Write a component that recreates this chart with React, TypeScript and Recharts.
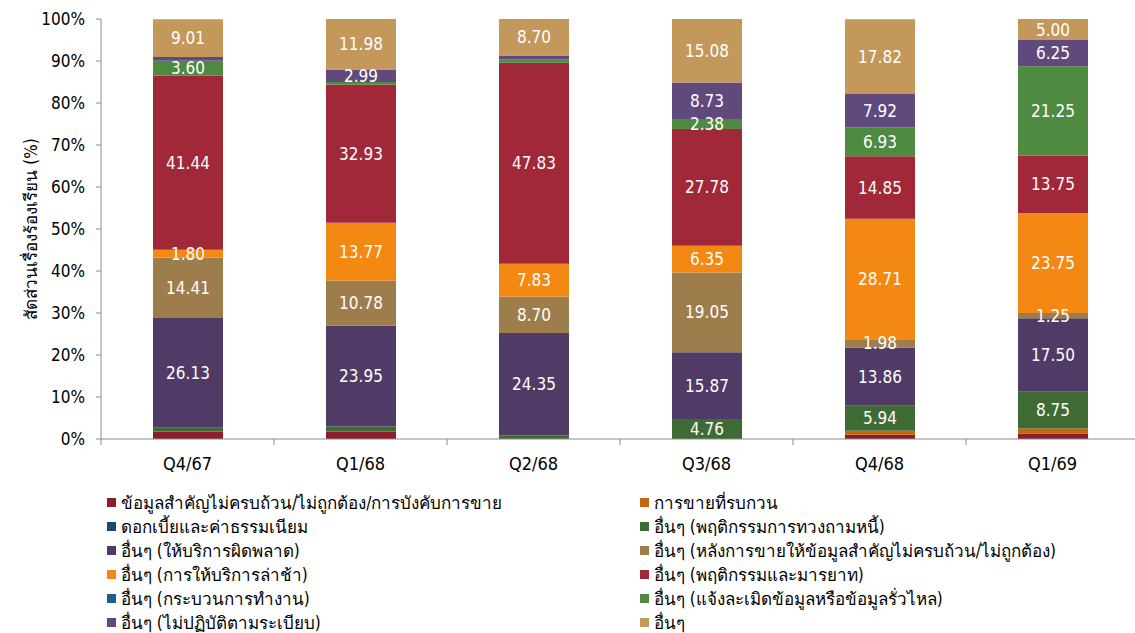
import React from 'react';
import { BarChart, Bar, XAxis, YAxis, LabelList } from 'recharts';

// quarters (Thai Buddhist-year)
const quarters = ['Q4/67', 'Q1/68', 'Q2/68', 'Q3/68', 'Q4/68', 'Q1/69'];

// share of complaints (%) per category, bottom of the stack first
const infoIncomplete = [1.8, 1.8, 0, 0, 0.99, 1.25];
const intrusiveSales = [0, 0, 0, 0, 0.99, 1.25];
const interestFees = [0, 0, 0, 0, 0, 0];
const debtCollection = [0.9, 1.2, 0.87, 4.76, 5.94, 8.75];
const serviceError = [26.13, 23.95, 24.35, 15.87, 13.86, 17.5];
const afterSales = [14.41, 10.78, 8.7, 19.05, 1.98, 1.25];
const serviceDelay = [1.8, 13.77, 7.83, 6.35, 28.71, 23.75];
const conduct = [41.44, 32.93, 47.83, 27.78, 14.85, 13.75];
const workProcess = [0, 0, 0, 0, 0, 0];
const dataLeak = [3.6, 0.6, 0.87, 2.38, 6.93, 21.25];
const nonCompliance = [0.9, 2.99, 0.87, 8.73, 7.92, 6.25];
const others = [9.01, 11.98, 8.7, 15.08, 17.82, 5.0];

const yTicks = [0, 10, 20, 30, 40, 50, 60, 70, 80, 90, 100];

const series = [
  { key: 's1', name: 'ข้อมูลสำคัญไม่ครบถ้วน/ไม่ถูกต้อง/การบังคับการขาย', values: infoIncomplete, color: '#8C1D2C', label: false },
  { key: 's2', name: 'การขายที่รบกวน', values: intrusiveSales, color: '#C8640C', label: false },
  { key: 's3', name: 'ดอกเบี้ยและค่าธรรมเนียม', values: interestFees, color: '#1B4A6C', label: true },
  { key: 's4', name: 'อื่นๆ (พฤติกรรมการทวงถามหนี้)', values: debtCollection, color: '#3E6B34', label: true },
  { key: 's5', name: 'อื่นๆ (ให้บริการผิดพลาด)', values: serviceError, color: '#4F3B65', label: true },
  { key: 's6', name: 'อื่นๆ (หลังการขายให้ข้อมูลสำคัญไม่ครบถ้วน/ไม่ถูกต้อง)', values: afterSales, color: '#9E7D4D', label: true },
  { key: 's7', name: 'อื่นๆ (การให้บริการล่าช้า)', values: serviceDelay, color: '#F38812', label: true },
  { key: 's8', name: 'อื่นๆ (พฤติกรรมและมารยาท)', values: conduct, color: '#A02839', label: true },
  { key: 's9', name: 'อื่นๆ (กระบวนการทำงาน)', values: workProcess, color: '#1F5E8A', label: true },
  { key: 's10', name: 'อื่นๆ (แจ้งละเมิดข้อมูลหรือข้อมูลรั่วไหล)', values: dataLeak, color: '#4E8A3F', label: true },
  { key: 's11', name: 'อื่นๆ (ไม่ปฏิบัติตามระเบียบ)', values: nonCompliance, color: '#604A7D', label: true },
  { key: 's12', name: 'อื่นๆ', values: others, color: '#C3985A', label: true },
];

const data = quarters.map((q, i) => {
  const row: any = { quarter: q };
  series.forEach((s) => { row[s.key] = s.values[i]; });
  return row;
});

const FONT = "Tahoma, 'DejaVu Sans Condensed', 'DejaVu Sans', sans-serif";
const BAND = 1038 / quarters.length;

// category label plus a boundary tick on the left of each band
const QuarterTick = ({ x, y, payload, index }: any) => (
  <g>
    <line x1={x - BAND / 2} y1={y - 8} x2={x - BAND / 2} y2={y - 2} stroke="#8c8c8c" />
    {index === quarters.length - 1 && (
      <line x1={x + BAND / 2} y1={y - 8} x2={x + BAND / 2} y2={y - 2} stroke="#8c8c8c" />
    )}
    <text x={x} y={y + 23} textAnchor="middle" fontSize={18} fill="#000" fontFamily={FONT}>
      {payload.value}
    </text>
  </g>
);

export default function App() {
  return (
    <div style={{ position: 'absolute', left: 0, top: 0, width: 1135, height: 633, overflow: 'hidden', background: '#fff', fontFamily: FONT }}>
      <BarChart
        width={1140}
        height={633}
        data={data}
        margin={{ top: 19, right: 1, left: 0, bottom: 164 }}
      >
        <XAxis
          dataKey="quarter"
          height={30}
          stroke="#8c8c8c"
          tickLine={false}
          tick={<QuarterTick />}
          interval={0}
        />
        <YAxis
          width={101}
          domain={[0, 100]}
          ticks={yTicks}
          tickFormatter={(v) => `${v}%`}
          stroke="#8c8c8c"
          tickSize={5}
          tickMargin={11}
          tick={{ fontSize: 17, fill: '#000', fontFamily: FONT }}
          label={{
            value: 'สัดส่วนเรื่องร้องเรียน (%)',
            angle: -90,
            position: 'insideLeft',
            offset: 31,
            style: { textAnchor: 'middle', fontSize: 17, fill: '#000', fontFamily: FONT },
          }}
        />
        {series.map((s) => (
          <Bar key={s.key} dataKey={s.key} name={s.name} stackId="a" fill={s.color} barSize={70} isAnimationActive={false}>
            {s.label && (
              <LabelList
                dataKey={s.key}
                position="center"
                fill="#fff"
                fontSize={17}
                fontFamily={FONT}
                formatter={(v: any) => (v >= 1.25 ? Number(v).toFixed(2) : '')}
              />
            )}
          </Bar>
        ))}
      </BarChart>

      {/* legend, two columns filled row by row */}
      <div
        style={{
          position: 'absolute',
          left: 107,
          top: 492,
          display: 'grid',
          gridTemplateColumns: '533px 480px',
          rowGap: 3,
          fontSize: 17,
          color: '#000',
        }}
      >
        {series.map((s) => (
          <div key={s.key} style={{ display: 'flex', alignItems: 'center', height: 21, whiteSpace: 'nowrap' }}>
            <span style={{ display: 'inline-block', width: 9, height: 9, background: s.color, marginRight: 5 }} />
            {s.name}
          </div>
        ))}
      </div>
    </div>
  );
}
